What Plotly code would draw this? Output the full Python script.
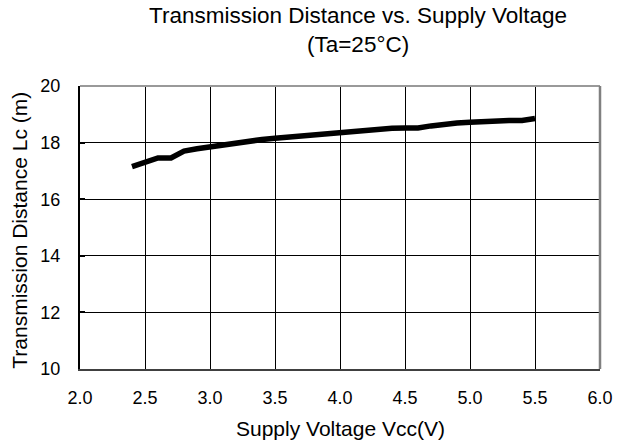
import plotly.graph_objects as go

vcc = [2.4, 2.5, 2.6, 2.7, 2.8, 2.9, 3.0, 3.1, 3.2, 3.3, 3.4, 3.5, 3.6, 3.7, 3.8, 3.9,
       4.0, 4.1, 4.2, 4.3, 4.4, 4.5, 4.6, 4.7, 4.8, 4.9, 5.0, 5.1, 5.2, 5.3, 5.4, 5.5]
lc = [17.15, 17.29, 17.46, 17.46, 17.70, 17.78, 17.85, 17.93, 18.00, 18.06, 18.11, 18.15,
      18.19, 18.25, 18.29, 18.32, 18.35, 18.38, 18.41, 18.46, 18.51, 18.52, 18.52, 18.59,
      18.65, 18.69, 18.72, 18.75, 18.78, 18.78, 18.78, 18.85]

x_ticks = [2.0, 2.5, 3.0, 3.5, 4.0, 4.5, 5.0, 5.5, 6.0]
x_tick_labels = ["2.0", "2.5", "3.0", "3.5", "4.0", "4.5", "5.0", "5.5", "6.0"]
y_ticks = [10, 12, 14, 16, 18, 20]

title_text = "Transmission Distance vs. Supply Voltage<br>(Ta=25°C)"
x_title = "Supply Voltage Vcc(V)"
y_title = "Transmission Distance Lc (m)"

font_family = "Liberation Sans, Arial, sans-serif"

W, H = 631, 446
ML, MR, MT, MB = 80, 31, 86, 76.5
PW, PH = W - ML - MR, H - MT - MB

fig = go.Figure()
fig.add_trace(go.Scatter(x=vcc, y=lc, mode="lines",
                         line=dict(color="black", width=5.5), showlegend=False))

fig.update_layout(
    width=W, height=H,
    margin=dict(l=ML, r=MR, t=MT, b=MB, autoexpand=False),
    paper_bgcolor="white", plot_bgcolor="white",
    font=dict(family=font_family, color="black", size=18),
    xaxis=dict(range=[2.0, 6.0], tickvals=x_ticks, ticktext=x_tick_labels,
               showgrid=True, gridcolor="black", gridwidth=1,
               showline=True, linecolor="#404040", linewidth=2,
               ticks="outside", ticklen=11, tickcolor="rgba(0,0,0,0)",
               zeroline=False, tickfont=dict(size=18)),
    yaxis=dict(range=[10, 20], tickvals=y_ticks,
               showgrid=True, gridcolor="black", gridwidth=1,
               showline=True, linecolor="black", linewidth=2,
               ticks="inside", ticklen=5, tickwidth=2, tickcolor="black",
               ticklabelstandoff=14,
               zeroline=False, tickfont=dict(size=18)),
    annotations=[
        dict(text=title_text, xref="paper", yref="paper",
             x=(358 - ML) / PW, y=1 + (MT - 1) / PH,
             xanchor="center", yanchor="top", showarrow=False, align="center",
             font=dict(size=22.5, family=font_family, color="black")),
        dict(text=x_title, xref="paper", yref="paper",
             x=(340 - ML) / PW, y=-(429 - (MT + PH)) / PH,
             xanchor="center", yanchor="middle", showarrow=False,
             font=dict(size=21, family=font_family, color="black")),
        dict(text=y_title, xref="paper", yref="paper",
             x=(20 - ML) / PW, y=(MT + PH - 231) / PH, textangle=-90,
             xanchor="center", yanchor="middle", showarrow=False,
             font=dict(size=21, family=font_family, color="black")),
    ],
)

fig.add_shape(type="line", xref="paper", yref="paper", x0=0, x1=1, y0=1, y1=1,
              line=dict(color="#999999", width=2))
fig.add_shape(type="line", xref="paper", yref="paper", x0=1, x1=1, y0=0, y1=1,
              line=dict(color="#808080", width=2.5))

fig.write_html("out.html", config={"displayModeBar": False},
               post_script="document.body.style.margin='0';")
